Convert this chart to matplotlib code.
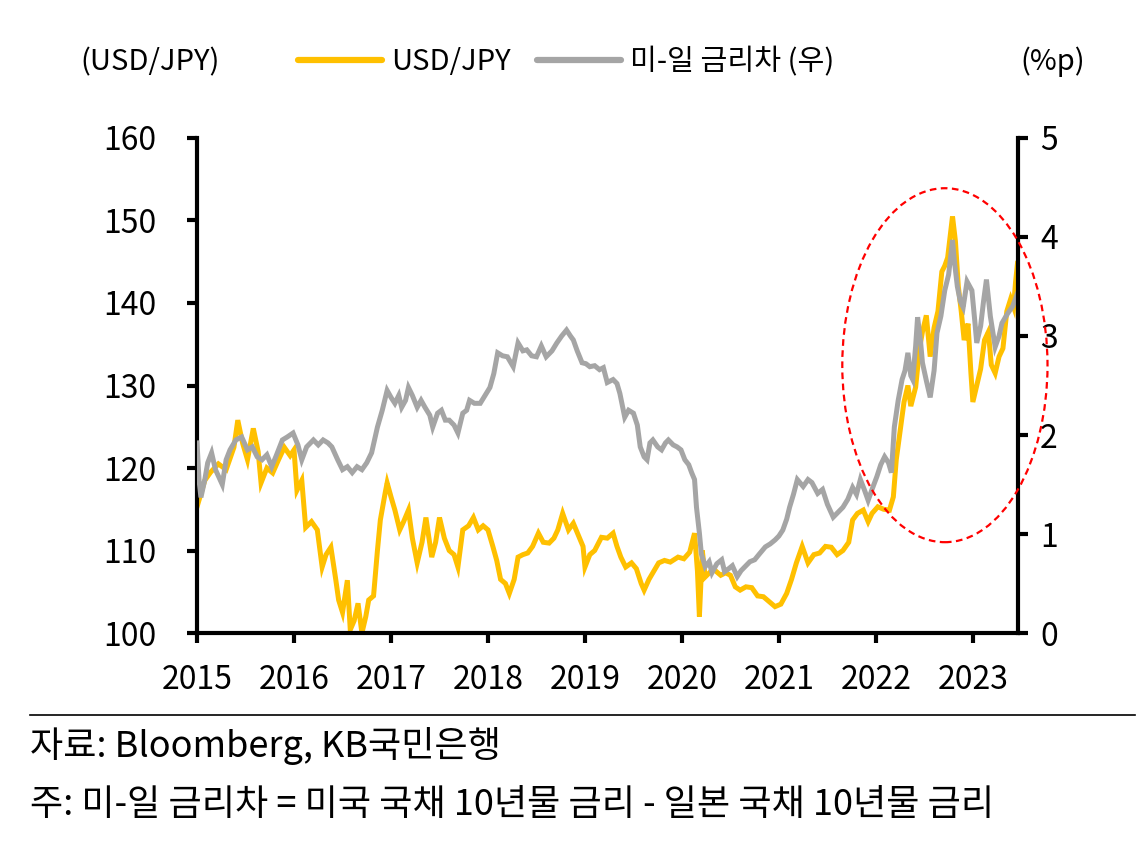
import matplotlib
matplotlib.use("Agg")
import matplotlib.pyplot as plt
from matplotlib.patches import Ellipse
from matplotlib.lines import Line2D

plt.rcParams['font.family'] = ['Noto Sans CJK KR', 'DejaVu Sans']

# ---- data (decimal years) ----
usdjpy_t = [2015.00, 2015.03, 2015.08, 2015.14, 2015.22, 2015.30, 2015.38, 2015.42, 2015.47, 2015.52,
            2015.58, 2015.63, 2015.66, 2015.72, 2015.78, 2015.84, 2015.90, 2015.96, 2016.00, 2016.03,
            2016.08, 2016.12, 2016.18, 2016.24, 2016.29, 2016.33, 2016.38, 2016.43, 2016.46, 2016.50,
            2016.55, 2016.58, 2016.62, 2016.66, 2016.70, 2016.74, 2016.77, 2016.82, 2016.86, 2016.89,
            2016.94, 2016.96, 2017.00, 2017.04, 2017.09, 2017.13, 2017.18, 2017.22, 2017.27, 2017.32,
            2017.36, 2017.42, 2017.46, 2017.50, 2017.55, 2017.60, 2017.65, 2017.69, 2017.74, 2017.80,
            2017.85, 2017.90, 2017.95, 2018.00, 2018.05, 2018.09, 2018.13, 2018.18, 2018.22, 2018.27,
            2018.31, 2018.36, 2018.41, 2018.46, 2018.52, 2018.57, 2018.63, 2018.68, 2018.72, 2018.77,
            2018.83, 2018.88, 2018.94, 2018.98, 2019.00, 2019.05, 2019.10, 2019.17, 2019.23, 2019.29,
            2019.33, 2019.37, 2019.42, 2019.48, 2019.53, 2019.58, 2019.61, 2019.66, 2019.70, 2019.76,
            2019.82, 2019.88, 2019.96, 2020.02, 2020.08, 2020.13, 2020.16, 2020.18, 2020.21, 2020.24,
            2020.30, 2020.34, 2020.40, 2020.45, 2020.50, 2020.55, 2020.60, 2020.66, 2020.72, 2020.78,
            2020.84, 2020.90, 2020.96, 2021.02, 2021.08, 2021.13, 2021.18, 2021.24, 2021.30, 2021.36,
            2021.42, 2021.48, 2021.54, 2021.60, 2021.66, 2021.72, 2021.76, 2021.81, 2021.87, 2021.92,
            2021.96, 2022.02, 2022.08, 2022.14, 2022.18, 2022.21, 2022.25, 2022.29, 2022.33, 2022.36,
            2022.41, 2022.45, 2022.48, 2022.52, 2022.56, 2022.60, 2022.64, 2022.68, 2022.71, 2022.74,
            2022.77, 2022.79, 2022.82, 2022.85, 2022.88, 2022.91, 2022.95, 2022.98, 2023.00, 2023.04,
            2023.08, 2023.12, 2023.16, 2023.19, 2023.23, 2023.27, 2023.31, 2023.35, 2023.39, 2023.42,
            2023.44, 2023.46]
usdjpy_v = [119.0, 116.5, 118.5, 119.5, 120.5, 119.8, 122.5, 125.8, 123.0, 121.0,
            124.8, 122.0, 118.2, 120.0, 119.4, 121.0, 122.5, 121.5, 122.2, 117.3,
            118.5, 112.8, 113.5, 112.5, 108.0, 109.5, 110.4, 106.5, 104.0, 102.5,
            106.4, 100.4, 101.5, 103.6, 100.0, 102.0, 104.0, 104.5, 110.0, 113.7,
            117.0, 118.2, 116.5, 114.9, 112.5, 113.5, 114.9, 111.5, 108.5, 111.0,
            114.0, 109.2, 111.0, 114.0, 111.5, 110.0, 109.5, 108.0, 112.5, 113.0,
            114.0, 112.5, 113.0, 112.5, 110.5, 108.8, 106.5, 106.0, 104.8, 106.5,
            109.2, 109.5, 109.7, 110.5, 112.1, 111.0, 110.9, 111.5, 112.5, 114.5,
            112.5, 113.3, 111.6, 110.5, 108.0, 109.5, 110.0, 111.6, 111.5, 112.1,
            110.5, 109.2, 108.0, 108.5, 107.8, 106.0, 105.2, 106.5, 107.3, 108.5,
            108.8, 108.6, 109.2, 109.0, 109.8, 112.1, 107.5, 102.0, 110.0, 106.8,
            107.5, 107.6, 107.0, 107.3, 107.0, 105.6, 105.2, 105.6, 105.5, 104.5,
            104.4, 103.8, 103.2, 103.5, 104.8, 106.5, 108.5, 110.5, 108.5, 109.5,
            109.7, 110.5, 110.4, 109.5, 110.0, 111.0, 113.7, 114.5, 114.9, 113.5,
            114.5, 115.3, 115.0, 114.9, 116.5, 121.0, 124.5, 128.0, 130.0, 127.5,
            129.8, 134.5, 136.5, 138.5, 133.5, 137.0, 139.0, 143.8, 144.5, 145.5,
            148.5, 150.5, 147.5, 142.0, 139.0, 135.5, 137.5, 131.5, 128.0, 130.0,
            132.0, 135.5, 136.5, 132.5, 131.5, 133.5, 134.5, 139.0, 140.5, 139.5,
            142.5, 144.8]

spread_t = [2015.00, 2015.02, 2015.04, 2015.08, 2015.11, 2015.15, 2015.19, 2015.26, 2015.30, 2015.34,
            2015.40, 2015.46, 2015.52, 2015.57, 2015.62, 2015.67, 2015.72, 2015.77, 2015.82, 2015.88,
            2015.93, 2015.99, 2016.04, 2016.08, 2016.13, 2016.20, 2016.25, 2016.30, 2016.35, 2016.39,
            2016.45, 2016.50, 2016.55, 2016.60, 2016.65, 2016.70, 2016.75, 2016.80, 2016.86, 2016.91,
            2016.96, 2017.00, 2017.04, 2017.08, 2017.11, 2017.15, 2017.18, 2017.22, 2017.27, 2017.31,
            2017.35, 2017.40, 2017.43, 2017.48, 2017.52, 2017.56, 2017.60, 2017.65, 2017.69, 2017.74,
            2017.78, 2017.81, 2017.86, 2017.92, 2017.97, 2018.02, 2018.06, 2018.10, 2018.15, 2018.20,
            2018.26, 2018.31, 2018.36, 2018.40, 2018.45, 2018.50, 2018.55, 2018.60, 2018.66, 2018.71,
            2018.76, 2018.81, 2018.85, 2018.88, 2018.92, 2018.97, 2019.01, 2019.05, 2019.10, 2019.15,
            2019.19, 2019.23, 2019.29, 2019.33, 2019.36, 2019.41, 2019.45, 2019.50, 2019.54, 2019.57,
            2019.61, 2019.64, 2019.67, 2019.70, 2019.75, 2019.79, 2019.83, 2019.86, 2019.91, 2019.95,
            2019.99, 2020.03, 2020.07, 2020.10, 2020.13, 2020.15, 2020.18, 2020.20, 2020.24, 2020.28,
            2020.31, 2020.36, 2020.41, 2020.44, 2020.47, 2020.52, 2020.57, 2020.61, 2020.65, 2020.70,
            2020.75, 2020.80, 2020.86, 2020.91, 2020.96, 2021.00, 2021.04, 2021.08, 2021.11, 2021.15,
            2021.19, 2021.25, 2021.30, 2021.34, 2021.40, 2021.45, 2021.50, 2021.56, 2021.61, 2021.66,
            2021.71, 2021.76, 2021.80, 2021.84, 2021.88, 2021.92, 2021.96, 2022.01, 2022.05, 2022.09,
            2022.13, 2022.16, 2022.19, 2022.23, 2022.27, 2022.30, 2022.33, 2022.36, 2022.38, 2022.41,
            2022.43, 2022.46, 2022.48, 2022.52, 2022.56, 2022.60, 2022.63, 2022.67, 2022.71, 2022.75,
            2022.79, 2022.81, 2022.84, 2022.87, 2022.90, 2022.94, 2022.99, 2023.02, 2023.04, 2023.08,
            2023.11, 2023.14, 2023.18, 2023.23, 2023.27, 2023.30, 2023.36, 2023.41, 2023.46]
spread_v = [1.92, 1.55, 1.37, 1.55, 1.72, 1.82, 1.65, 1.50, 1.75, 1.85,
            1.95, 1.98, 1.85, 1.88, 1.78, 1.75, 1.80, 1.68, 1.80, 1.95,
            1.98, 2.02, 1.90, 1.75, 1.88, 1.95, 1.90, 1.95, 1.92, 1.88,
            1.75, 1.65, 1.68, 1.62, 1.68, 1.65, 1.72, 1.82, 2.08, 2.25,
            2.45, 2.38, 2.32, 2.40, 2.28, 2.35, 2.48, 2.40, 2.28, 2.35,
            2.28, 2.20, 2.08, 2.22, 2.25, 2.15, 2.15, 2.10, 2.02, 2.22,
            2.25, 2.35, 2.32, 2.32, 2.40, 2.48, 2.62, 2.83, 2.80, 2.79,
            2.69, 2.93, 2.85, 2.86, 2.80, 2.79, 2.90, 2.79, 2.85, 2.93,
            3.00, 3.06, 3.00, 2.96, 2.85, 2.73, 2.72, 2.69, 2.70, 2.66,
            2.68, 2.53, 2.56, 2.52, 2.42, 2.18, 2.25, 2.22, 2.10, 1.88,
            1.78, 1.75, 1.92, 1.95, 1.88, 1.85, 1.92, 1.95, 1.90, 1.88,
            1.85, 1.75, 1.70, 1.62, 1.55, 1.27, 1.01, 0.80, 0.67, 0.72,
            0.61, 0.70, 0.74, 0.62, 0.64, 0.68, 0.57, 0.63, 0.67, 0.72,
            0.74, 0.80, 0.87, 0.90, 0.94, 0.98, 1.04, 1.15, 1.27, 1.40,
            1.55, 1.48, 1.55, 1.52, 1.41, 1.45, 1.30, 1.17, 1.22, 1.27,
            1.35, 1.47, 1.40, 1.55, 1.45, 1.34, 1.45, 1.58, 1.70, 1.78,
            1.72, 1.62, 2.08, 2.35, 2.56, 2.65, 2.83, 2.60, 2.56, 2.90,
            3.19, 2.95, 2.73, 2.55, 2.38, 2.65, 3.03, 3.20, 3.46, 3.62,
            3.97, 3.75, 3.50, 3.35, 3.29, 3.55, 3.46, 3.15, 2.93, 3.10,
            3.35, 3.57, 3.20, 2.89, 3.00, 3.13, 3.23, 3.30, 3.43]

year_ticks = [2015, 2016, 2017, 2018, 2019, 2020, 2021, 2022, 2023]
left_ticks = [100, 110, 120, 130, 140, 150, 160]
right_ticks = [0, 1, 2, 3, 4, 5]

YELLOW = '#FFC000'
GREY = '#A5A5A5'
FS = 21
TICK_FS = 23
NOTE_FS = 26

fig = plt.figure(figsize=(11.47, 8.48), dpi=100)
ax = fig.add_axes([0.1718, 0.2535, 0.7157, 0.5838])
ax2 = ax.twinx()

l1, = ax.plot(usdjpy_t, usdjpy_v, color=YELLOW, lw=3.6, solid_joinstyle='miter', label='USD/JPY')
l2, = ax2.plot(spread_t, spread_v, color=GREY, lw=3.6, solid_joinstyle='miter', label='미-일 금리차 (우)')

ax.set_xlim(2015.0, 2023.465)
ax.set_ylim(100, 160)
ax2.set_ylim(0, 5)
ax.set_xticks(year_ticks)
ax.set_xticklabels([str(y) for y in year_ticks])
ax.set_yticks(left_ticks)
ax2.set_yticks(right_ticks)

for a in (ax, ax2):
    for s in a.spines.values():
        s.set_linewidth(3.0)
        s.set_color('black')
    a.spines['top'].set_visible(False)
ax.spines['right'].set_visible(False)
ax2.spines['left'].set_visible(False)
ax2.spines['bottom'].set_visible(False)

ax.tick_params(axis='y', direction='out', length=7, width=3, labelsize=TICK_FS, pad=22)
ax.tick_params(axis='x', direction='out', length=7, width=3, labelsize=TICK_FS, pad=15)
ax2.tick_params(axis='y', direction='out', length=7, width=3, labelsize=TICK_FS, pad=9)

# ellipse highlight
ell = Ellipse((0.911, 0.541), 0.25, 0.715, transform=ax.transAxes, fill=False,
              edgecolor='#FF0000', lw=1.6, ls=(0, (3, 2)), clip_on=False, zorder=5)
ax2.add_patch(ell)

# axis unit labels
fig.text(80 / 1147, 1 - 62 / 848, '(USD/JPY)', fontsize=FS, ha='left', va='center')
fig.text(1085 / 1147, 1 - 62 / 848, '(%p)', fontsize=FS, ha='right', va='center')

# legend
leg = fig.legend(handles=[l1, l2], loc='center', bbox_to_anchor=(566 / 1147, 1 - 62 / 848),
                 ncol=2, frameon=False, fontsize=FS, handlelength=2.9, handletextpad=0.3,
                 columnspacing=0.9, borderpad=0)
for ln in leg.get_lines():
    ln.set_linewidth(4.5)
    ln.set_solid_capstyle('round')

# separator and notes
fig.add_artist(Line2D([30 / 1147, 1135 / 1147], [1 - 715 / 848, 1 - 715 / 848],
                      color='black', lw=1.2, transform=fig.transFigure))
fig.text(30 / 1147, 1 - 746 / 848, '자료: Bloomberg, KB국민은행', fontsize=NOTE_FS, ha='left', va='center')
fig.text(30 / 1147, 1 - 805 / 848, '주: 미-일 금리차 = 미국 국채 10년물 금리 - 일본 국채 10년물 금리',
         fontsize=NOTE_FS, ha='left', va='center')

fig.savefig('out.png', dpi=100)
